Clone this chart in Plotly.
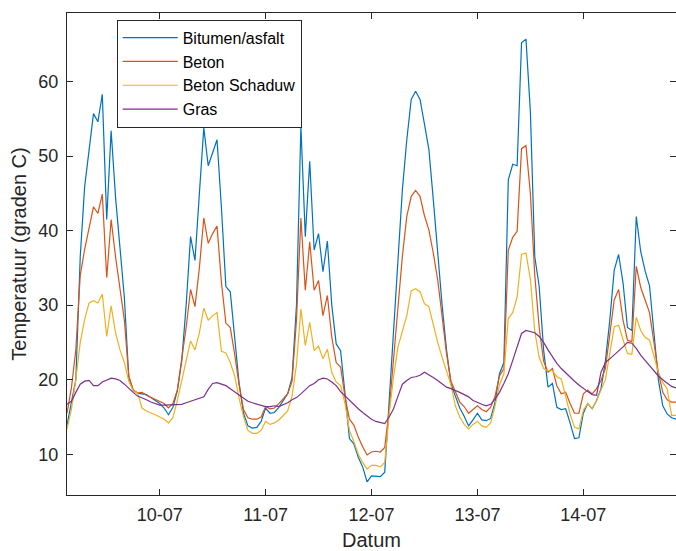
import pandas as pd
import plotly.graph_objects as go

start = "2019-07-09 03:00"
n_hours = 139
times = pd.date_range(start, periods=n_hours, freq="h")

bitumen = [13.9, 17.0, 20.0, 36.5, 45.9, 50.8, 55.7, 54.6, 58.3, 41.5, 53.4, 44.5, 37.5, 31.0, 20.3, 18.6, 18.2, 18.1,
           18.0, 17.6, 17.2, 16.8, 16.2, 15.3, 16.3, 18.5, 22.5, 30.0, 39.2, 36.0, 45.0, 53.8, 48.7, 50.6, 52.2,
           43.0, 32.5, 31.8, 25.5, 19.5, 15.5, 13.8, 13.5, 13.6, 14.4, 16.2, 15.5, 15.6, 16.3, 17.2, 18.1, 20.3,
           30.0, 54.0, 39.2, 49.3, 37.4, 39.6, 34.5, 38.6, 30.0, 24.8, 23.9, 18.1, 12.1, 11.4, 9.6, 8.3, 6.3, 7.1, 7.1, 7.0, 7.6,
           17.0, 26.0, 35.3, 45.5, 52.2, 57.6, 58.7, 57.6, 54.3, 50.9, 44.2, 37.0, 30.0, 24.0, 19.5, 17.8,
           16.2, 15.1, 13.8, 14.6, 15.5, 14.6, 14.5, 14.8, 17.0, 20.8, 22.3, 46.8, 48.9, 48.7, 65.2, 65.7, 56.0, 36.5,
           32.5, 24.0, 19.0, 19.5, 16.3, 16.0, 16.1, 14.2, 12.1, 12.2, 15.5, 16.8, 16.1, 17.2, 18.8, 22.5, 28.0,
           34.7, 36.8, 33.0, 27.0, 26.6, 41.9, 37.2, 34.6, 32.6, 26.0, 20.0, 16.5, 15.4, 14.9, 14.7]

beton = [15.5, 18.9, 24.0, 34.0, 37.5, 40.2, 43.2, 42.3, 44.9, 33.7, 41.5, 36.5, 32.5, 28.0, 20.5, 18.6, 18.2, 18.3,
         17.9, 17.6, 17.3, 17.0, 16.8, 16.2, 16.8, 18.6, 22.5, 27.0, 32.1, 29.8, 35.0, 41.7, 38.3, 39.6, 40.6,
         33.0, 27.6, 27.0, 23.4, 19.3, 16.0, 14.9, 14.7, 14.7, 15.0, 16.4, 16.1, 16.2, 16.8, 17.4, 18.1, 19.8,
         28.0, 41.7, 32.0, 38.5, 32.0, 33.3, 28.6, 31.3, 25.7, 22.3, 21.7, 17.7, 14.7, 13.9, 12.3, 11.0, 9.9, 10.3, 10.4, 10.3, 10.9,
         15.9, 22.6, 29.3, 36.6, 41.9, 44.6, 45.4, 44.6, 42.0, 40.1, 37.0, 33.4, 28.5, 23.5, 19.8, 18.3,
         17.0, 16.4, 15.5, 16.0, 16.5, 16.0, 15.7, 16.3, 17.8, 20.5, 21.5, 37.4, 39.1, 39.9, 51.0, 51.4, 45.0, 34.0,
         27.0, 22.5, 21.0, 21.5, 19.2, 18.1, 18.3, 16.8, 15.5, 15.5, 18.1, 18.6, 18.1, 18.8, 19.9, 21.5, 26.5,
         30.7, 32.1, 28.0, 25.3, 25.1, 35.2, 32.4, 30.7, 29.0, 25.0, 21.0, 18.3, 17.3, 17.0, 17.0]

beton_schaduw = [13.4, 16.0, 20.0, 25.0, 28.1, 30.3, 30.6, 30.3, 31.5, 25.8, 29.9, 26.3, 24.0, 22.3, 19.8, 18.5, 18.2, 16.2,
                 15.8, 15.6, 15.3, 15.0, 14.7, 14.2, 14.9, 17.2, 19.8, 22.3, 25.2, 24.0, 26.3, 29.6, 28.0, 28.6, 29.0,
                 23.8, 23.6, 22.3, 20.5, 17.5, 15.0, 13.2, 12.8, 12.8, 13.2, 14.4, 14.0, 14.2, 14.6, 15.2, 15.8, 17.8,
                 22.0, 29.5, 24.6, 27.7, 23.9, 24.5, 22.8, 24.1, 21.0, 19.7, 19.2, 16.8, 13.2, 11.7, 10.0, 8.9, 8.0, 8.5, 8.5, 8.3, 8.9,
                 15.4, 20.4, 24.4, 26.6, 28.6, 31.9, 32.2, 31.8, 30.2, 29.8, 27.3, 25.0, 23.0, 21.0, 19.3, 16.5,
                 15.0, 14.0, 13.4, 14.0, 14.4, 13.8, 13.6, 14.2, 16.5, 19.3, 20.8, 28.2, 29.0, 31.1, 36.8, 37.0, 33.5, 26.5,
                 23.0, 21.5, 21.2, 21.2, 20.4, 20.1, 17.6, 15.4, 13.6, 13.4, 15.9, 16.8, 16.1, 17.2, 18.6, 20.0, 23.5,
                 27.1, 27.3, 25.3, 23.5, 23.4, 28.4, 26.6, 25.7, 25.3, 23.0, 21.0, 19.6, 18.8, 15.2, 15.2]

gras = [16.7, 17.1, 18.3, 19.4, 19.8, 19.9, 19.2, 19.2, 19.7, 20.0, 20.2, 20.1, 19.9, 19.4, 18.8, 18.3, 17.8, 17.6,
        17.3, 17.0, 16.8, 16.6, 16.6, 16.6, 16.6, 16.6, 16.7, 16.9, 17.1, 17.3, 17.4, 17.7, 18.7, 19.5, 19.6,
        19.4, 19.2, 18.8, 18.4, 17.9, 17.5, 17.1, 16.9, 16.7, 16.5, 16.4, 16.4, 16.5, 16.4, 16.6, 16.9, 17.3,
        17.6, 18.1, 18.7, 19.2, 19.5, 20.0, 20.2, 20.1, 19.7, 19.2, 18.4, 17.8, 17.2, 16.7, 16.1, 15.6, 15.1, 14.7, 14.4, 14.2, 14.1,
        15.0, 16.1, 17.8, 19.4, 19.9, 20.3, 20.4, 20.6, 21.0, 20.7, 20.3, 19.9, 19.5, 19.0, 18.8, 18.6,
        18.3, 18.0, 17.7, 17.2, 16.9, 16.7, 16.5, 16.7, 17.4, 18.3, 19.5, 20.8, 22.6, 24.4, 26.2, 26.6, 26.4, 26.3,
        25.8, 25.0, 24.0, 23.1, 22.2, 21.5, 20.9, 20.3, 19.8, 19.3, 18.8, 18.4, 18.0, 17.9, 21.0, 22.3, 22.8,
        23.3, 23.9, 24.4, 25.0, 24.9, 24.2, 23.3, 22.6, 21.9, 21.1, 20.5, 20.0, 19.5, 19.1, 18.9]

series_names = ["Bitumen/asfalt", "Beton", "Beton Schaduw", "Gras"]
series_values = [bitumen, beton, beton_schaduw, gras]
colors = ["#0072BD", "#D95319", "#EDB120", "#7E2F8E"]

y_ticks = [10, 20, 30, 40, 50, 60]
x_tick_dates = ["2019-07-10", "2019-07-11", "2019-07-12", "2019-07-13", "2019-07-14"]
x_tick_labels = ["10-07", "11-07", "12-07", "13-07", "14-07"]

fig = go.Figure()
for name, vals, col in zip(series_names, series_values, colors):
    fig.add_trace(go.Scatter(x=times, y=vals, mode="lines", name=name,
                             line=dict(color=col, width=1.2)))

axis_col = "#262626"
font_family = "Liberation Sans, Arial, sans-serif"

fig.update_layout(
    width=676, height=551,
    margin=dict(l=67, r=0, t=13, b=56),
    paper_bgcolor="white", plot_bgcolor="white",
    font=dict(family=font_family, color=axis_col, size=18),
    showlegend=True,
    legend=dict(x=0.0816, y=0.986, xanchor="left", yanchor="top",
                bgcolor="white", bordercolor=axis_col, borderwidth=1,
                font=dict(family=font_family, size=16, color="#000000"),
                itemwidth=55, tracegroupgap=0),
    xaxis=dict(range=[times[0], times[-1]], tickvals=x_tick_dates, ticktext=x_tick_labels,
               showline=True, mirror="ticks", linecolor=axis_col, linewidth=1,
               ticks="inside", ticklen=6, tickcolor=axis_col, showgrid=False, zeroline=False,
               tickfont=dict(size=18, color=axis_col), ticklabelstandoff=3,
               title=dict(text="Datum", font=dict(size=20, color=axis_col), standoff=12)),
    yaxis=dict(range=[4.53, 69.2], tickvals=y_ticks,
               showline=True, mirror="ticks", linecolor=axis_col, linewidth=1,
               ticks="inside", ticklen=6, tickcolor=axis_col, showgrid=False, zeroline=False,
               tickfont=dict(size=18, color=axis_col), ticklabelstandoff=4,
               title=dict(text="Temperatuur (graden C)", font=dict(size=20, color=axis_col), standoff=6)),
)

fig.write_html("out.html")
